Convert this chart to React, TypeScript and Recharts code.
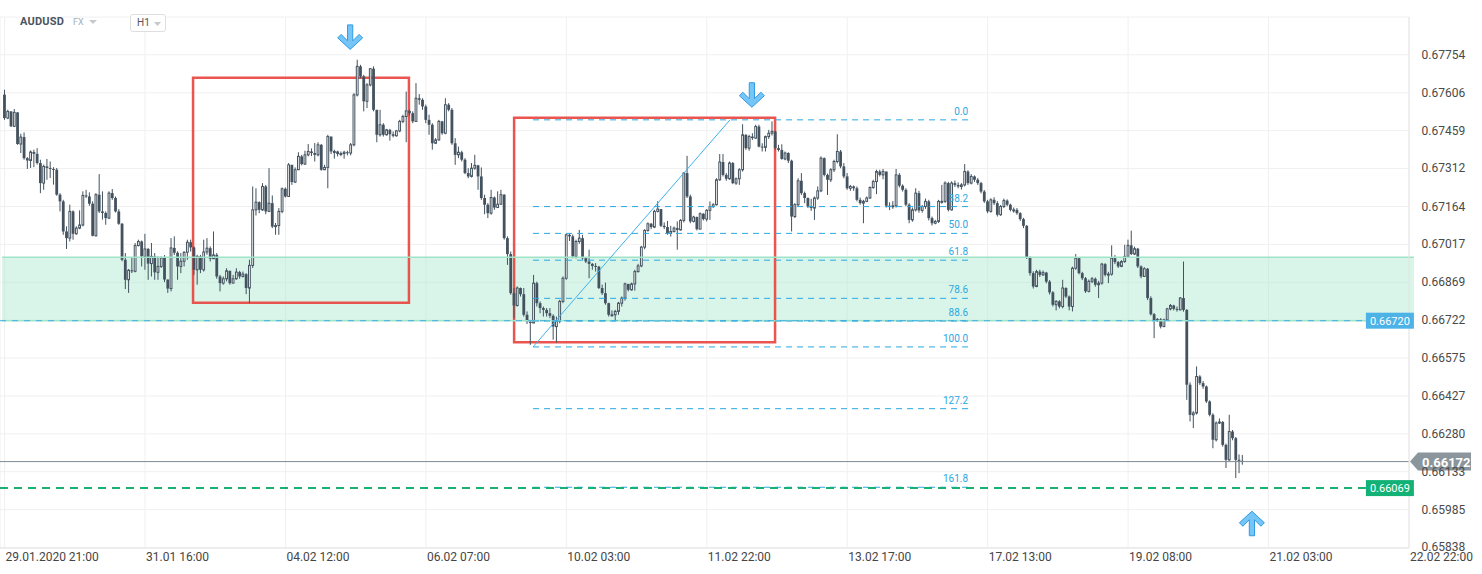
import React from "react";
import {
  ComposedChart,
  Bar,
  XAxis,
  YAxis,
  CartesianGrid,
  ReferenceArea,
  ReferenceLine,
  ReferenceDot,
} from "recharts";

// Prices are stored in points (0.00001) above 0.65000
const PRICE_BASE = 0.65;
const POINT = 0.00001;
const FIRST_OPEN = 2599;

const closePts = [
  2508,2534,2476,2530,2407,2434,2352,2343,2376,2369,
  2333,2255,2320,2314,2310,2307,2210,2184,2067,2041,
  2145,2058,2080,2092,2207,2203,2175,2050,2210,2145,
  2139,2119,2216,2197,2145,2097,1957,1879,1916,1912,
  2012,2028,1970,1999,1942,1970,1908,1931,1964,1880,
  1845,2003,1984,1931,1951,1986,2025,2005,1918,1970,
  1918,1987,2002,1961,1976,1892,1866,1883,1914,1866,
  1883,1909,1892,1901,1847,1935,2151,2181,2151,2242,
  2145,2177,2086,2090,2145,2233,2203,2326,2259,2307,
  2359,2329,2365,2378,2372,2365,2404,2307,2316,2436,
  2378,2378,2368,2370,2375,2372,2404,2598,2709,2670,
  2573,2637,2700,2540,2443,2482,2443,2462,2445,2439,
  2458,2495,2514,2536,2527,2495,2585,2579,2553,2501,
  2482,2410,2423,2495,2449,2560,2540,2410,2365,2375,
  2346,2294,2281,2313,2324,2281,2197,2171,2138,2199,
  2160,2173,2210,2041,1979,1827,1779,1847,1823,1743,
  1717,1711,1866,1788,1769,1762,1749,1739,1697,1717,
  1795,1885,2054,2048,1970,2028,2041,1963,1950,1941,
  1933,1930,1847,1827,1788,1743,1743,1756,1788,1808,
  1863,1840,1863,1911,1933,2006,2071,2097,2084,2145,
  2154,2089,2084,2060,2067,2080,2073,2110,2294,2203,
  2106,2123,2076,2136,2115,2149,2164,2171,2268,2337,
  2287,2272,2333,2255,2272,2307,2443,2391,2436,2430,
  2475,2397,2394,2436,2449,2456,2391,2384,2349,2372,
  2342,2125,2171,2264,2216,2197,2164,2158,2197,2225,
  2352,2287,2268,2307,2339,2378,2320,2281,2235,2242,
  2235,2190,2177,2184,2197,2238,2261,2300,2287,2300,
  2167,2164,2167,2287,2245,2229,2171,2112,2151,2216,
  2149,2164,2184,2119,2099,2106,2184,2184,2255,2151,
  2255,2248,2242,2248,2300,2255,2281,2268,2255,2222,
  2184,2145,2190,2177,2132,2164,2187,2171,2151,2151,
  2138,2115,2089,1967,1905,1853,1911,1898,1907,1872,
  1830,1782,1795,1775,1847,1814,1775,1924,1963,1905,
  1885,1834,1873,1883,1860,1866,1940,1898,1901,1963,
  1948,1931,1950,1970,2013,1979,2000,1931,1892,1922,
  1808,1745,1720,1725,1697,1723,1766,1779,1766,1762,
  1808,1762,1471,1354,1361,1503,1477,1464,1406,1354,
  1257,1322,1326,1237,1179,1289,1263,1179,1175,1172,
];

const highPts = [
  2618,2540,2534,2543,2531,2447,2452,2356,2382,2385,
  2391,2346,2327,2349,2339,2317,2314,2216,2190,2087,
  2171,2149,2087,2149,2223,2229,2219,2184,2216,2290,
  2223,2145,2223,2232,2203,2154,2100,1983,1921,1964,
  2022,2035,2032,2058,2003,2022,1983,1970,1970,1975,
  1880,2041,2048,1990,1983,1990,2035,2035,2009,1976,
  1976,2035,2041,2009,2067,1983,1898,1892,1924,1914,
  1898,1924,1914,1911,1905,1957,2242,2235,2184,2255,
  2248,2313,2207,2100,2158,2238,2238,2333,2326,2316,
  2375,2365,2381,2407,2390,2411,2414,2407,2326,2443,
  2436,2385,2381,2378,2381,2381,2411,2605,2735,2715,
  2676,2644,2702,2709,2540,2540,2488,2466,2466,2456,
  2462,2501,2521,2611,2540,2534,2644,2601,2585,2560,
  2521,2488,2430,2501,2497,2585,2566,2547,2430,2397,
  2381,2352,2313,2333,2365,2326,2316,2210,2177,2229,
  2203,2223,2229,2212,2048,1989,1847,1853,1849,1847,
  1756,1723,1898,1872,1795,1775,1769,1769,1745,1736,
  1801,1892,2058,2060,2055,2035,2073,2054,1963,1996,
  1944,1944,1933,1860,1868,1790,1760,1762,1793,1814,
  1868,1863,1868,1918,1941,2011,2076,2102,2100,2151,
  2184,2154,2102,2108,2089,2086,2106,2115,2297,2361,
  2210,2128,2125,2141,2138,2154,2184,2177,2274,2368,
  2368,2294,2339,2337,2277,2313,2484,2445,2443,2449,
  2482,2482,2410,2440,2462,2495,2458,2404,2406,2378,
  2375,2346,2177,2274,2294,2222,2199,2194,2203,2242,
  2359,2355,2292,2313,2346,2445,2384,2333,2294,2248,
  2246,2242,2199,2190,2203,2242,2268,2307,2307,2310,
  2300,2180,2185,2310,2294,2250,2235,2177,2160,2235,
  2225,2170,2195,2190,2125,2112,2190,2248,2262,2260,
  2262,2265,2258,2255,2329,2305,2290,2285,2275,2260,
  2228,2190,2196,2200,2185,2170,2195,2192,2175,2160,
  2158,2142,2120,2092,1970,1912,1918,1918,1915,1910,
  1878,1835,1800,1800,1879,1850,1818,1930,1979,1966,
  1910,1890,1880,1890,1888,1875,1945,1944,1910,2013,
  1975,1952,1955,2015,2035,2070,2008,2003,1935,1928,
  1925,1815,1750,1730,1730,1728,1770,1785,1782,1775,
  1812,1950,1765,1480,1368,1542,1508,1485,1468,1410,
  1360,1328,1340,1330,1242,1354,1295,1268,1200,1198,
];

const lowPts = [
  2501,2504,2473,2473,2404,2372,2346,2310,2314,2317,
  2327,2216,2229,2268,2275,2249,2206,2145,2054,1999,
  2028,2035,2054,2076,2087,2197,2167,2048,2048,2139,
  2113,2093,2115,2190,2141,2093,1951,1843,1828,1905,
  1908,2009,1931,1918,1879,1892,1879,1879,1925,1870,
  1828,1834,1975,1879,1905,1931,1957,1989,1898,1860,
  1905,1911,1976,1950,1961,1883,1834,1860,1873,1860,
  1866,1879,1883,1888,1823,1788,1925,2129,2138,2147,
  2134,2142,2080,2054,2054,2138,2199,2203,2248,2255,
  2307,2324,2326,2359,2360,2339,2359,2303,2307,2235,
  2368,2350,2359,2360,2350,2363,2363,2398,2592,2663,
  2534,2547,2631,2534,2414,2436,2436,2440,2420,2433,
  2436,2453,2488,2414,2518,2488,2495,2560,2540,2488,
  2443,2385,2407,2420,2443,2445,2534,2404,2326,2352,
  2339,2290,2274,2277,2307,2229,2190,2134,2119,2132,
  2151,2158,2171,2035,1937,1821,1730,1775,1814,1736,
  1707,1626,1711,1775,1749,1736,1736,1730,1646,1635,
  1710,1788,1879,2030,1963,1962,2019,1957,1944,1885,
  1918,1911,1843,1820,1782,1736,1736,1720,1743,1775,
  1798,1834,1837,1837,1907,1928,1998,2066,2076,2080,
  2141,2084,2076,2054,2047,2063,1996,2071,2102,2197,
  2099,2102,2071,2076,2110,2106,2112,2158,2168,2264,
  2281,2264,2268,2251,2248,2248,2300,2384,2381,2423,
  2427,2394,2378,2378,2427,2440,2384,2378,2346,2344,
  2333,2067,2119,2164,2209,2177,2158,2147,2112,2190,
  2220,2281,2209,2259,2298,2332,2313,2274,2229,2225,
  2225,2184,2171,2099,2181,2194,2233,2212,2281,2270,
  2160,2150,2155,2160,2238,2222,2165,2099,2105,2145,
  2140,2140,2155,2110,2090,2095,2100,2175,2178,2145,
  2148,2240,2235,2230,2242,2248,2250,2260,2248,2215,
  2178,2138,2140,2170,2125,2128,2158,2165,2145,2140,
  2132,2108,2080,1960,1895,1845,1850,1890,1895,1865,
  1822,1775,1760,1768,1768,1808,1760,1756,1918,1900,
  1878,1828,1830,1866,1852,1808,1860,1892,1866,1895,
  1940,1925,1928,1945,1965,1975,1975,1925,1885,1890,
  1800,1740,1652,1715,1690,1695,1720,1760,1760,1755,
  1760,1755,1412,1328,1302,1355,1470,1455,1400,1348,
  1224,1250,1318,1230,1147,1175,1255,1108,1127,1160,
];

// hourly slot index of each x-axis label
const xTickSlots = [0, 43, 86, 129, 172, 215, 258, 301, 344, 387, 430];
const xTickLabels = [
  "29.01.2020  21:00", "31.01  16:00", "04.02  12:00", "06.02  07:00", "10.02  03:00",
  "11.02  22:00", "13.02  17:00", "17.02  13:00", "19.02  08:00", "21.02  03:00", "22.02  22:00",
];
const yTicks = [
  0.65838, 0.65985, 0.66133, 0.6628, 0.66427, 0.66575, 0.66722,
  0.66869, 0.67017, 0.67164, 0.67312, 0.67459, 0.67606, 0.67754,
];

const currentPrice = 0.66172;
const zoneLow = 0.6672;
const zoneHigh = 0.66967;
const targetPrice = 0.66069;

const fibHigh = 0.67501;
const fibLow = 0.66618;
const fibRatios = [0, 0.382, 0.5, 0.618, 0.786, 0.886, 1, 1.272, 1.618];
const fibLabels = ["0.0", "38.2", "50.0", "61.8", "78.6", "88.6", "100.0", "127.2", "161.8"];
const fibStartSlot = 161.8;
const fibEndSlot = 296.2;
const trendStart = { slot: 161.8, price: 0.66618 };
const trendEnd = { slot: 222.1, price: 0.67501 };

const redBoxes = [
  { x1: 57.7, x2: 123.8, y1: 0.6679, y2: 0.67665 },
  { x1: 156.0, x2: 235.9, y1: 0.66636, y2: 0.67509 },
];
const arrows = [
  { slot: 105.8, price: 0.67777, dir: "down" },
  { slot: 228.8, price: 0.67552, dir: "down" },
  { slot: 381.9, price: 0.65977, dir: "up" },
];

const X_MIN = -1.41;
const X_MAX = 430;
const ZONE_LEFT = -0.8;
const ZONE_RIGHT = 431.5;
const TAG_SLOT = 416.8;

const candles = closePts.map((c, i) => ({
  i,
  o: PRICE_BASE + (i === 0 ? FIRST_OPEN : closePts[i - 1]) * POINT,
  h: PRICE_BASE + highPts[i] * POINT,
  l: PRICE_BASE + lowPts[i] * POINT,
  c: PRICE_BASE + c * POINT,
}));

const DARK = "#43525e";
const FONT = "Roboto, 'Noto Sans', sans-serif";

const Candle = (props: any) => {
  const { x, y, width, height, payload } = props;
  if (!payload || x == null) return null;
  const { o, h, l, c } = payload;
  const top = Math.min(y, y + height);
  const bot = Math.max(y, y + height);
  const span = h - l;
  const k = span > 0 ? (bot - top) / span : 0;
  const yO = top + (h - o) * k;
  const yC = top + (h - c) * k;
  const cx = x + width / 2;
  const bw = 2.8;
  const bTop = Math.min(yO, yC);
  const bH = Math.max(Math.abs(yO - yC), 1);
  const bull = c >= o;
  return (
    <g>
      <line x1={cx} x2={cx} y1={top} y2={bot} stroke={DARK} strokeWidth={1} />
      {bull ? (
        <rect x={cx - bw / 2 + 0.5} y={bTop} width={bw - 1} height={bH} fill="#ffffff" stroke={DARK} strokeWidth={1} />
      ) : (
        <rect x={cx - bw / 2} y={bTop} width={bw} height={bH} fill={DARK} />
      )}
    </g>
  );
};

const XTick = (p: any) => {
  const idx = xTickSlots.indexOf(p.payload.value);
  return (
    <text x={p.x + 1} y={p.y + 13} fontSize={12} fontFamily={FONT} fill="#454545" textAnchor="start">
      {idx >= 0 ? xTickLabels[idx] : ""}
    </text>
  );
};

const YTick = (p: any) => (
  <text x={p.x + 12.5} y={p.y + 4} fontSize={12} fontFamily={FONT} fill="#4a4a4a" textAnchor="start">
    {Number(p.payload.value).toFixed(5)}
  </text>
);

const arrowShape = (dir: string) => (p: any) => {
  const { cx, cy } = p;
  const s = dir === "down" ? 1 : -1;
  const pts = [
    [-2.6, -24], [2.6, -24], [2.6, -8], [9, -14.5], [12.5, -11], [0, 0.5],
    [-12.5, -11], [-9, -14.5], [-2.6, -8],
  ].map(([dx, dy]) => `${cx + dx},${cy + s * dy}`).join(" ");
  return <polygon points={pts} fill="#76c5f7" stroke="#2f9be3" strokeWidth={1} />;
};

const FibLabel = (text: string) => (p: any) => (
  <text x={p.cx} y={p.cy - 5} fontSize={10} fontFamily={FONT} fill="#2aa8e2" textAnchor="end">
    {text}
  </text>
);

const TagBox = (text: string, bg: string) => (p: any) => (
  <g>
    <rect x={p.cx} y={p.cy - 8} width={48} height={16} fill={bg} />
    <text x={p.cx + 24} y={p.cy + 4} fontSize={11} fontFamily={FONT} fill="#ffffff" textAnchor="middle">
      {text}
    </text>
  </g>
);

const PriceTag = (p: any) => {
  const { cx, cy } = p;
  return (
    <g>
      <polygon
        points={`${cx + 1},${cy} ${cx + 9},${cy - 9} ${cx + 62},${cy - 9} ${cx + 62},${cy + 9} ${cx + 9},${cy + 9}`}
        fill="#8a959c"
      />
      <text x={cx + 13} y={cy + 5} fontSize={13} fontWeight={700} fontFamily={FONT} fill="#ffffff" textAnchor="start">
        {currentPrice.toFixed(5)}
      </text>
    </g>
  );
};

export default function App() {
  const fibPrice = (r: number) => fibHigh - r * (fibHigh - fibLow);
  return (
    <div style={{ position: "absolute", left: 0, top: 0, width: 1482, height: 574, background: "#fff", fontFamily: FONT }}>
      <ComposedChart
        width={1482}
        height={574}
        data={candles}
        margin={{ top: 17, right: 0, bottom: 0, left: 0 }}
      >
        <CartesianGrid stroke="#f0f0f0" strokeWidth={1} />
        <XAxis
          type="number"
          dataKey="i"
          domain={[X_MIN, X_MAX]}
          ticks={xTickSlots}
          interval={0}
          height={26}
          tickLine={false}
          tickSize={0}
          tickMargin={0}
          axisLine={{ stroke: "#e6e6e6" }}
          tick={<XTick />}
          allowDataOverflow
        />
        <YAxis
          orientation="right"
          type="number"
          domain={[0.65836, 0.67901]}
          ticks={yTicks}
          interval={0}
          width={73}
          tickLine={false}
          tickSize={0}
          tickMargin={0}
          axisLine={{ stroke: "#e6e6e6" }}
          tick={<YTick />}
          allowDataOverflow
        />
        <Bar
          dataKey={(d: any) => [d.l, d.h]}
          barSize={3}
          shape={<Candle />}
          isAnimationActive={false}
        />

        <ReferenceArea
          x1={ZONE_LEFT}
          x2={ZONE_RIGHT}
          y1={zoneLow}
          y2={zoneHigh}
          fill="rgb(168,232,207)"
          fillOpacity={0.44}
          stroke="none"
          ifOverflow="visible"
        />
        <ReferenceLine
          segment={[{ x: ZONE_LEFT, y: zoneHigh }, { x: ZONE_RIGHT, y: zoneHigh }]}
          stroke="#9fe4c9"
          strokeWidth={1.5}
          ifOverflow="visible"
        />
        <ReferenceLine
          segment={[{ x: ZONE_LEFT, y: zoneLow }, { x: ZONE_RIGHT, y: zoneLow }]}
          stroke="#9fe4c9"
          strokeWidth={1.5}
          ifOverflow="visible"
        />
        <ReferenceLine
          segment={[{ x: X_MIN, y: zoneLow }, { x: TAG_SLOT, y: zoneLow }]}
          stroke="#46aee6"
          strokeWidth={1}
          strokeDasharray="6 6"
          ifOverflow="visible"
        />

        {redBoxes.map((b, k) => (
          <ReferenceArea
            key={"rb" + k}
            x1={b.x1}
            x2={b.x2}
            y1={b.y1}
            y2={b.y2}
            fill="none"
            fillOpacity={0}
            stroke="#e8423c"
            strokeWidth={2.5}
            strokeOpacity={0.9}
            ifOverflow="visible"
          />
        ))}

        {fibRatios.map((r, k) => (
          <ReferenceLine
            key={"fl" + k}
            segment={[{ x: fibStartSlot, y: fibPrice(r) }, { x: fibEndSlot, y: fibPrice(r) }]}
            stroke="#29a8e2"
            strokeWidth={1}
            strokeDasharray="6 5"
            ifOverflow="visible"
          />
        ))}
        {fibRatios.map((r, k) => (
          <ReferenceDot
            key={"ft" + k}
            x={fibEndSlot - 1.2}
            y={fibPrice(r)}
            r={0}
            shape={FibLabel(fibLabels[k])}
            ifOverflow="visible"
          />
        ))}
        <ReferenceLine
          segment={[{ x: trendStart.slot, y: trendStart.price }, { x: trendEnd.slot, y: trendEnd.price }]}
          stroke="#3eb1ec"
          strokeWidth={1}
          ifOverflow="visible"
        />

        <ReferenceLine y={currentPrice} stroke="#7f8b93" strokeWidth={1} ifOverflow="visible" />
        <ReferenceLine
          segment={[{ x: X_MIN, y: targetPrice }, { x: TAG_SLOT, y: targetPrice }]}
          stroke="#17b173"
          strokeWidth={2}
          strokeDasharray="8 6"
          ifOverflow="visible"
        />

        <ReferenceDot x={TAG_SLOT} y={zoneLow} r={0} shape={TagBox(zoneLow.toFixed(5), "#4db2e6")} ifOverflow="visible" />
        <ReferenceDot x={TAG_SLOT} y={targetPrice} r={0} shape={TagBox(targetPrice.toFixed(5), "#12b277")} ifOverflow="visible" />
        <ReferenceDot x={X_MAX} y={currentPrice} r={0} shape={PriceTag} ifOverflow="visible" />

        {arrows.map((a, k) => (
          <ReferenceDot key={"ar" + k} x={a.slot} y={a.price} r={0} shape={arrowShape(a.dir)} ifOverflow="visible" />
        ))}
      </ComposedChart>

      <div style={{ position: "absolute", left: 20, top: 15, fontSize: 11, fontWeight: 700, color: "#4a5560", letterSpacing: 0.2 }}>
        AUDUSD
      </div>
      <div style={{ position: "absolute", left: 73, top: 17, fontSize: 9, color: "#9fb0b8" }}>FX</div>
      <svg style={{ position: "absolute", left: 89, top: 20 }} width={9} height={5}>
        <polygon points="0,0 8,0 4,4" fill="#c6c9cc" />
      </svg>
      <div
        style={{
          position: "absolute",
          left: 130,
          top: 14,
          width: 34,
          height: 16,
          border: "1px solid #dedede",
          borderRadius: 3,
          background: "#fff",
          fontSize: 10,
          color: "#555",
        }}
      >
        <span style={{ position: "absolute", left: 6, top: 2 }}>H1</span>
        <svg style={{ position: "absolute", left: 23, top: 7 }} width={8} height={5}>
          <polygon points="0,0 7,0 3.5,4" fill="#c6c9cc" />
        </svg>
      </div>
    </div>
  );
}
